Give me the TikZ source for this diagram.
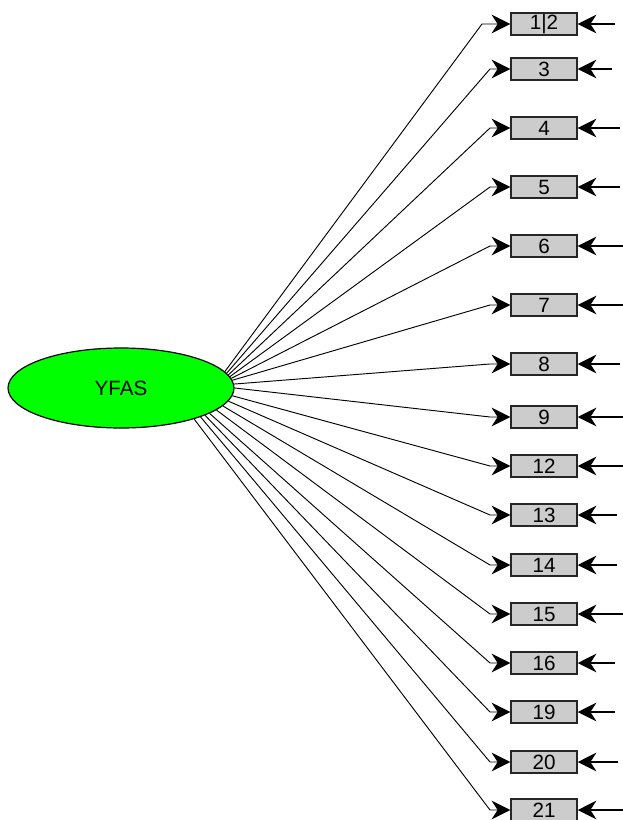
\documentclass[tikz,border=0pt]{standalone}
\usepackage{fontspec}
\setmainfont{Liberation Sans}
\usetikzlibrary{arrows.meta,shapes.geometric}
\begin{document}
\begin{tikzpicture}[x=0.75pt,y=-0.75pt,
  obs/.style={draw=black!85, line width=1.1pt, fill=black!20, minimum width=49.5pt, minimum height=16.5pt, inner sep=0pt, font=\fontsize{15.5}{15.5}\selectfont},
  lat/.style={ellipse, draw=black, line width=0.9pt, fill=green, minimum width=169.5pt, minimum height=60pt, inner sep=0pt, font=\fontsize{15.5}{15.5}\selectfont},
  path/.style={draw=black, line width=0.7pt, -{Stealth[length=14pt,width=14pt,inset=4.5pt]}},
  err/.style={draw=black, line width=0.9pt, -{Stealth[length=14pt,width=14pt,inset=4.5pt]}}]
\useasboundingbox (0,0) rectangle (623,820);
\clip (0,0) rectangle (623,820);
\node[lat] (yfas) at (121,388) {YFAS};
\foreach \n/\t/\y/\r/\a/\bx in {
  1/{1|2}/24/615/9/482,
  3/3/69/612/8/490,
  4/4/128/620/7/490,
  5/5/187/620/6/490,
  6/6/246/623/5/490,
  7/7/305/623/4/490,
  8/8/364/620/2/490,
  9/9/417/623/0/490,
  12/12/466/623/-4/490,
  13/13/515/617/-7/490,
  14/14/565/617/-10/490,
  15/15/614/623/-13/490,
  16/16/663/615/-16/490,
  19/19/712/615/-18/490,
  20/20/762/618/-20/490,
  21/21/810/623/-23/490}{
  \node[obs] (b\n) at (544,\y) {\t};
  \coordinate (k\n) at (\bx,\y);
  \coordinate (e\n) at (\r,\y);
  \draw[path] (yfas.\a) -- (k\n) -- (b\n.west);
  \draw[err] (e\n) -- (b\n.east);
}
\end{tikzpicture}
\end{document}
